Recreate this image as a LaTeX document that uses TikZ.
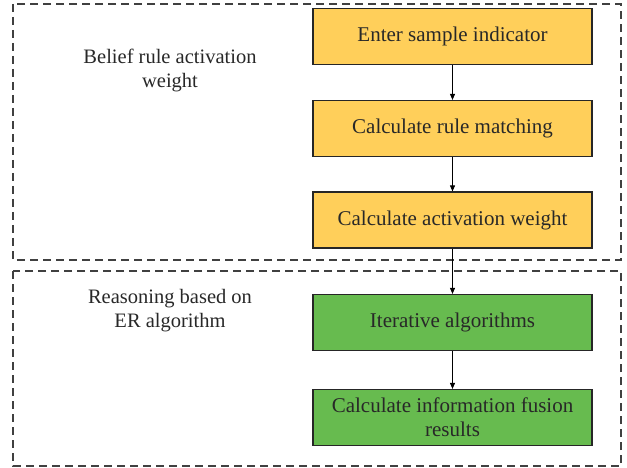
\documentclass[tikz,border=0pt]{standalone}
\usepackage{fontspec}
\setmainfont{Liberation Serif}
\usetikzlibrary{arrows.meta}
\definecolor{boxyellow}{RGB}{255,207,90}
\definecolor{boxgreen}{RGB}{103,187,79}
\definecolor{txt}{RGB}{40,40,40}
\tikzset{
  stepbox/.style={draw=black!85, line width=1.2pt, minimum width=279pt, minimum height=56pt, text=txt, font=\fontsize{21}{24}\selectfont, align=center, inner sep=2pt},
  ybox/.style={stepbox, fill=boxyellow},
  gbox/.style={stepbox, fill=boxgreen},
  group/.style={draw=black!75, line width=1.1pt, dash pattern=on 8pt off 5pt},
  lbl/.style={text=txt, font=\fontsize{20.5}{24}\selectfont, align=center},
  conn/.style={-{Triangle[length=6pt,width=5pt]}, line width=0.9pt, draw=black}
}
\begin{document}
\begin{tikzpicture}[x=1pt,y=-1pt]
\useasboundingbox (0,0) rectangle (627,468);
\draw[group] (13,4) rectangle (621,260);
\draw[group] (13,271) rectangle (621,466);
\node[ybox] (a) at (452.5,36.5) {Enter sample indicator};
\node[ybox] (b) at (452.5,128.5) {Calculate rule matching};
\node[ybox] (c) at (452.5,220) {Calculate activation weight};
\node[gbox] (d) at (452.5,322.5) {Iterative algorithms};
\node[gbox] (e) at (452.5,417.5) {Calculate information fusion\\results};
\node[lbl] (l1) at (170,70) {Belief rule activation\\weight};
\node[lbl] (l2) at (170,311) {Reasoning based on\\ER algorithm};
\draw[conn] (a) -- (b);
\draw[conn] (b) -- (c);
\draw[conn] (c) -- (d);
\draw[conn] (d) -- (e);
\end{tikzpicture}
\end{document}
